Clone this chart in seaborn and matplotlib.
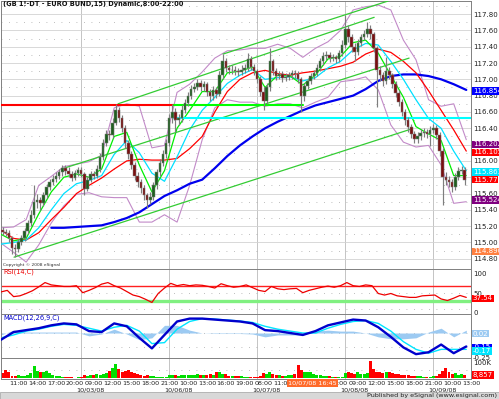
# EURO BUND 15 min - candles + MAs + RSI + MACD + volume (eSignal look)

import numpy as np
import matplotlib
matplotlib.use("Agg")
import matplotlib.pyplot as plt
import matplotlib.transforms as mtrans
from matplotlib.patches import Rectangle
import seaborn as sns

sns.set_theme(style="white")
plt.rcParams['font.family'] = ['DejaVu Sans']

# === Dados (barras de 30 min, x em unidades de barras de 15 min) ===
first_open = 115.15
closes = [115.13, 115.12, 115.06, 114.93, 114.92, 115.01, 115.05, 115.14, 115.24, 115.34,
          115.50, 115.52, 115.49, 115.58, 115.68, 115.74, 115.78, 115.82, 115.86, 115.91,
          115.88, 115.84, 115.79, 115.85, 115.89, 115.84, 115.66, 115.77, 115.84, 115.82,
          115.90, 116.05, 116.22, 116.33, 116.32, 116.47, 116.62, 116.53, 116.40, 116.22,
          116.08, 115.95, 115.82, 115.74, 115.67, 115.58, 115.52, 115.56, 115.70, 115.86,
          115.98, 116.08, 116.22, 116.52, 116.60, 116.50, 116.52, 116.63, 116.71, 116.80,
          116.88, 116.91, 116.95, 116.90, 116.94, 116.84, 116.79, 116.87, 116.82, 117.05,
          117.22, 117.14, 117.11, 117.12, 117.10, 117.09, 117.12, 117.14, 117.25, 117.15,
          117.10, 117.00, 116.85, 116.74, 116.90, 117.22, 117.10, 117.04, 117.06, 117.02,
          117.03, 117.05, 117.08, 117.07, 117.00, 116.80, 116.92, 116.98, 117.04, 117.08,
          117.14, 117.22, 117.28, 117.30, 117.26, 117.27, 117.25, 117.32, 117.42, 117.62,
          117.52, 117.40, 117.34, 117.45, 117.52, 117.56, 117.62, 117.55, 117.38, 117.12,
          117.05, 116.98, 117.10, 117.05, 116.94, 116.83, 116.72, 116.60, 116.50, 116.41,
          116.33, 116.27, 116.30, 116.34, 116.35, 116.33, 116.38, 116.40, 116.32, 116.12,
          115.80, 115.77, 115.74, 115.68, 115.80, 115.88, 115.89, 115.77]
highs = [115.19, 115.17, 115.15, 115.08, 114.98, 115.04, 115.09, 115.18, 115.28, 115.40,
         115.70, 115.60, 115.56, 115.62, 115.72, 115.78, 115.83, 115.87, 115.90, 115.95,
         115.95, 115.92, 115.88, 115.89, 115.93, 115.92, 115.86, 115.81, 115.88, 115.88,
         115.95, 116.10, 116.27, 116.38, 116.38, 116.52, 116.70, 116.66, 116.56, 116.44,
         116.26, 116.12, 115.99, 115.86, 115.78, 115.71, 115.61, 115.62, 115.74, 115.90,
         116.02, 116.13, 116.27, 116.58, 116.70, 116.65, 116.58, 116.68, 116.76, 116.85,
         116.93, 116.96, 117.00, 116.99, 116.98, 116.97, 116.88, 116.92, 116.91, 117.10,
         117.31, 117.26, 117.18, 117.17, 117.16, 117.14, 117.17, 117.19, 117.32, 117.28,
         117.19, 117.13, 117.04, 116.90, 116.95, 117.38, 117.25, 117.14, 117.10, 117.10,
         117.08, 117.09, 117.12, 117.12, 117.10, 117.03, 116.96, 117.02, 117.08, 117.12,
         117.19, 117.26, 117.33, 117.35, 117.34, 117.31, 117.30, 117.36, 117.48, 117.79,
         117.66, 117.56, 117.44, 117.50, 117.56, 117.61, 117.70, 117.66, 117.58, 117.41,
         117.16, 117.09, 117.27, 117.15, 117.08, 116.98, 116.87, 116.76, 116.64, 116.54,
         116.45, 116.37, 116.35, 116.39, 116.40, 116.39, 116.43, 116.45, 116.44, 116.36,
         116.16, 115.86, 115.82, 115.78, 115.85, 115.93, 115.94, 115.92]
lows = [115.09, 115.08, 115.01, 114.86, 114.82, 114.88, 114.97, 115.02, 115.10, 115.20,
        115.30, 115.42, 115.40, 115.45, 115.55, 115.64, 115.70, 115.74, 115.78, 115.82,
        115.83, 115.80, 115.75, 115.76, 115.81, 115.80, 115.58, 115.63, 115.74, 115.78,
        115.79, 115.86, 116.01, 116.18, 116.26, 116.28, 116.44, 116.48, 116.35, 116.16,
        116.02, 115.90, 115.76, 115.68, 115.61, 115.52, 115.42, 115.47, 115.52, 115.66,
        115.82, 115.94, 116.04, 116.18, 116.46, 116.36, 116.44, 116.48, 116.59, 116.67,
        116.76, 116.84, 116.87, 116.86, 116.86, 116.79, 116.74, 116.75, 116.77, 116.79,
        117.01, 117.09, 117.06, 117.06, 117.05, 117.04, 117.05, 117.08, 117.10, 117.11,
        117.05, 116.95, 116.80, 116.62, 116.70, 116.86, 117.05, 116.99, 117.00, 116.97,
        116.98, 116.99, 117.01, 117.02, 116.95, 116.60, 116.74, 116.88, 116.94, 117.00,
        117.04, 117.10, 117.18, 117.24, 117.21, 117.22, 117.20, 117.21, 117.28, 117.38,
        117.46, 117.34, 117.22, 117.30, 117.41, 117.48, 117.52, 117.50, 117.33, 116.66,
        116.98, 116.92, 116.94, 117.00, 116.89, 116.78, 116.67, 116.55, 116.44, 116.36,
        116.28, 116.22, 116.22, 116.26, 116.29, 116.28, 116.18, 116.34, 116.27, 116.06,
        115.46, 115.70, 115.68, 115.62, 115.64, 115.76, 115.84, 115.70]
volume_k = [30, 50, 40, 15, 12, 20, 15, 12, 20, 30, 75, 45, 40, 35, 45, 30, 20, 12, 10, 8,
            5, 4, 4, 3, 4, 5, 20, 15, 18, 20, 25, 22, 28, 30, 45, 60, 90, 55, 40, 45,
            50, 35, 30, 25, 20, 15, 18, 12, 10, 6, 5, 4, 5, 18, 22, 20, 15, 18, 22, 20,
            18, 20, 25, 22, 18, 20, 25, 22, 35, 40, 28, 25, 15, 12, 10, 12, 10, 8, 8, 5,
            4, 5, 15, 30, 25, 35, 28, 20, 18, 15, 15, 18, 20, 25, 80, 50, 40, 38, 35, 25,
            20, 18, 15, 12, 10, 8, 6, 5, 8, 30, 35, 30, 25, 35, 28, 25, 30, 105, 55, 40,
            35, 30, 40, 35, 30, 25, 28, 22, 20, 18, 15, 15, 12, 10, 8, 6, 8, 12, 15, 25,
            45, 60, 35, 25, 30, 22, 25, 20]

# indicadores lidos a cada 2 horas
ema_fast = [115.10, 115.02, 115.05, 115.35, 115.62, 115.80, 115.84, 115.80, 115.90, 116.30,
            116.35, 115.95, 115.62, 115.88, 116.40, 116.62, 116.85, 116.85, 117.08, 117.10,
            117.15, 116.90, 117.05, 117.04, 116.93, 117.05, 117.25, 117.28, 117.45, 117.48,
            117.32, 117.05, 116.78, 116.42, 116.33, 116.25, 115.82, 115.82]
ema_mid = [114.98, 115.00, 115.03, 115.18, 115.40, 115.60, 115.72, 115.76, 115.82, 116.08,
           116.25, 116.10, 115.85, 115.75, 116.05, 116.38, 116.62, 116.78, 116.95, 117.05,
           117.12, 117.00, 117.02, 117.03, 116.98, 117.02, 117.14, 117.22, 117.36, 117.44,
           117.42, 117.22, 117.00, 116.75, 116.52, 116.40, 116.12, 115.88]
ma_red = [115.15, 115.05, 115.03, 115.12, 115.28, 115.43, 115.60, 115.70, 115.79, 115.90,
          116.00, 116.02, 116.01, 116.01, 116.03, 116.15, 116.30, 116.60, 116.85, 117.00,
          117.08, 117.11, 117.07, 117.05, 117.08, 117.10, 117.13, 117.16, 117.21, 117.31,
          117.37, 117.33, 117.22, 117.08, 116.86, 116.62, 116.38, 116.12]
ma_blue = [np.nan, np.nan, np.nan, np.nan, 115.18, 115.18, 115.19, 115.20, 115.21, 115.25,
           115.30, 115.37, 115.47, 115.57, 115.64, 115.72, 115.77, 115.91, 116.06, 116.19,
           116.30, 116.40, 116.48, 116.55, 116.62, 116.68, 116.72, 116.76, 116.80, 116.88,
           116.98, 117.04, 117.06, 117.06, 117.04, 117.00, 116.94, 116.87]
bb_upper = [115.18, 115.19, 115.28, 115.70, 115.81, 115.93, 115.96, 115.99, 116.07, 116.65,
            116.70, 116.67, 116.16, 116.19, 116.84, 116.94, 117.09, 117.26, 117.35, 117.36,
            117.38, 117.38, 117.43, 117.38, 117.27, 117.38, 117.46, 117.60, 117.85, 117.89,
            117.91, 117.85, 117.48, 117.24, 116.75, 116.67, 116.70, 116.26]
bb_lower = [114.99, 114.88, 114.76, 114.97, 115.24, 115.45, 115.59, 115.61, 115.56, 115.55,
            115.55, 115.25, 115.25, 115.34, 115.25, 115.70, 116.26, 116.65, 116.75, 116.72,
            116.72, 116.67, 116.70, 116.70, 116.65, 116.72, 116.78, 116.97, 116.99, 117.03,
            116.87, 116.44, 116.23, 116.17, 116.19, 115.95, 115.48, 115.50]
macd = [-0.07, 0.01, 0.03, 0.05, 0.08, 0.10, 0.09, 0.02, 0.01, 0.10,
        0.07, -0.05, -0.16, -0.02, 0.12, 0.15, 0.15, 0.14, 0.13, 0.12,
        0.10, 0.03, 0.02, 0.00, -0.02, 0.02, 0.08, 0.11, 0.14, 0.13,
        0.06, -0.04, -0.15, -0.22, -0.20, -0.12, -0.21, -0.14]
macd_signal = [-0.05, -0.02, 0.02, 0.04, 0.07, 0.09, 0.08, 0.05, 0.02, 0.06,
               0.08, 0.02, -0.11, -0.10, 0.04, 0.12, 0.15, 0.145, 0.135, 0.125,
               0.11, 0.07, 0.04, 0.02, 0.00, 0.00, 0.05, 0.09, 0.12, 0.13,
               0.10, 0.02, -0.09, -0.17, -0.21, -0.17, -0.17, -0.17]
# RSI lido a cada hora
rsi = [54, 58, 42, 44, 50, 57, 67, 78, 72, 70, 68, 68, 70, 52, 58, 65, 74, 78, 70, 64,
       55, 46, 42, 35, 27, 50, 64, 76, 70, 73, 70, 72, 71, 68, 64, 75, 70, 66, 68, 72,
       65, 58, 55, 68, 62, 60, 62, 63, 52, 58, 62, 66, 69, 66, 70, 78, 70, 68, 72, 70,
       50, 46, 50, 44, 42, 40, 40, 44, 45, 46, 36, 32, 38, 45, 40]

# linhas desenhadas (canais, niveis)
channels = [((8.3, 114.82), (260.9, 116.39)),
            ((40.0, 115.91), (259.6, 117.26)),
            ((74.5, 116.70), (237.4, 117.76)),
            ((141.3, 117.31), (246.3, 117.96))]
level_red = (116.69, 0, 110)
level_green = (116.69, 110, 192)
level_cyan = (116.53, 110, 299)

right_labels = [(116.854, '#0000FF', '116.854082'), (116.2025, '#800080', '116.202515'),
                (116.105, '#FF0000', '116.105'), (115.8635, '#00E5FF', '115.8635'),
                (115.77, '#FF0000', '115.77'), (115.5245, '#800080', '115.524485'),
                (114.8905, '#FF8040', '114.890538')]

day_names = ['10/03/08', '10/06/08', '10/07/08', '10/08/08', '10/09/08']
tick_days = [0, 0, 0, 0, 1, 1, 1, 1, 1, 2, 2, 2, 2, 3, 3, 3, 3, 3, 4, 4, 4, 4, 4, 5, 5]
tick_hours = [11, 14, 17, 20, 9, 12, 15, 18, 21, 10, 13, 16, 19, 8, 11, 14, 17, 20,
              9, 12, 15, 18, 21, 10, 13]
cursor_label = '10/07/08 16:45'
cursor_bar = 198

# === eixos ===
W, H = 499, 399
fig = plt.figure(figsize=(W / 100, H / 100), dpi=100)
fig.patch.set_facecolor('white')


def panel(top, bottom):
    return fig.add_axes([1 / W, 1 - bottom / H, 470 / W, (bottom - top) / H])


ax = panel(1, 269)
ax_rsi = panel(269, 314)
ax_macd = panel(314, 358)
ax_vol = panel(358, 379)

n = len(closes)
cx = np.arange(n) * 2 + 1
opens = np.r_[first_open, closes[:-1]]
cl = np.array(closes)
line_x = np.arange(0, 297, 8)
rsi_x = np.arange(0, 297, 4)
separators = [56 * d + 51 for d in range(5)]

for a in (ax, ax_rsi, ax_macd, ax_vol):
    a.set_xlim(0, 299)
    a.set_facecolor('white')
    for s in a.spines.values():
        s.set_color('#808080')
        s.set_linewidth(0.7)
    a.tick_params(axis='both', length=0, labelsize=5, pad=1.5, colors='#202020')
    a.yaxis.tick_right()
    a.set_xticks([])
    for sx in separators:
        a.axvline(sx, color='#c4c4c4', lw=0.7, zorder=0)

# grade de precos
ax.set_ylim(114.675, 117.96)
for p in np.arange(114.8, 117.95, 0.1):
    if round(p * 10) % 2 == 0:
        ax.axhline(p, color='#d2d2d2', lw=0.6, zorder=0)
    else:
        ax.axhline(p, color='#a8a8a8', lw=0.6, ls=(0, (1, 8)), zorder=0)
ticks = np.arange(114.8, 117.81, 0.2)
ax.set_yticks(ticks)
ax.set_yticklabels([f"{t:.2f}" for t in ticks])

# bandas e medias
sns.lineplot(x=line_x, y=bb_upper, ax=ax, color='#c28ac8', lw=0.8, zorder=2)
sns.lineplot(x=line_x, y=bb_lower, ax=ax, color='#c28ac8', lw=0.8, zorder=2)
sns.lineplot(x=line_x, y=ma_blue, ax=ax, color='#0000ee', lw=1.6, zorder=3)
sns.lineplot(x=line_x, y=ma_red, ax=ax, color='#ff0000', lw=0.9, zorder=3)
sns.lineplot(x=line_x, y=ema_mid, ax=ax, color='#00e0ff', lw=0.9, zorder=3)
sns.lineplot(x=line_x, y=ema_fast, ax=ax, color='#00ee00', lw=0.9, zorder=3)

for (x0, y0), (x1, y1) in channels:
    ax.plot([x0, x1], [y0, y1], color='#33cc33', lw=0.9, zorder=4)
for (lvl, x0, x1), col in [(level_red, '#ff0000'), (level_green, '#00ff00'), (level_cyan, '#00ffff')]:
    ax.plot([x0, x1], [lvl, lvl], color=col, lw=1.5, zorder=4)

# candles
up = cl >= opens
ax.vlines(cx, lows, highs, color='#7e7e7e', lw=0.85, zorder=5)
body_lo = np.minimum(opens, cl)
body_h = np.maximum(np.abs(cl - opens), 0.008)
ax.bar(cx, body_h, bottom=body_lo, width=1.6,
       color=np.where(up, '#1f5f1f', '#7a1010'), edgecolor='#7e7e7e', linewidth=0.35, zorder=6)

for val, col, txt in right_labels:
    ax.text(1.004, val, txt, transform=ax.get_yaxis_transform(), fontsize=5, color='white',
            va='center', ha='left', clip_on=False, zorder=10,
            bbox=dict(boxstyle='square,pad=0.12', fc=col, ec='none'))

ax.text(0.004, 117.92, '(GB 1!-DT - EURO BUND,15) Dynamic,8:00-22:00', fontsize=4.8,
        fontweight='bold', color='#101010', va='center', transform=ax.get_yaxis_transform())
ax.text(0.004, 114.72, 'Copyright \u00a9 2008 eSignal', fontsize=3.2, color='#303030',
        va='center', transform=ax.get_yaxis_transform())
ax.set_xlabel('')
ax.set_ylabel('')

# RSI
ax_rsi.set_ylim(-2.6, 112.8)
ax_rsi.axhline(50, color='#a8a8a8', lw=0.6, ls=(0, (1, 8)), zorder=0)
ax_rsi.axhline(10, color='#a8a8a8', lw=0.6, ls=(0, (1, 8)), zorder=0)
ax_rsi.axhline(70, color='#ff2020', lw=1.0, zorder=1)
ax_rsi.axhline(30, color='#80f080', lw=2.4, zorder=1)
sns.lineplot(x=rsi_x, y=rsi, ax=ax_rsi, color='#ee0000', lw=0.9, zorder=3)
ax_rsi.set_yticks([0, 50, 100])
ax_rsi.set_yticklabels(['0', '50', '100'])
ax_rsi.text(0.004, 106, 'RSI(14,C)', fontsize=4.8, color='#ee0000', va='center',
            transform=ax_rsi.get_yaxis_transform())
ax_rsi.text(1.004, rsi[-1] - 2.5, '37.54', transform=ax_rsi.get_yaxis_transform(), fontsize=5,
            color='white', va='center', ha='left', clip_on=False,
            bbox=dict(boxstyle='square,pad=0.12', fc='#ff0000', ec='none'))
ax_rsi.set_xlabel('')
ax_rsi.set_ylabel('')

# MACD
ax_macd.set_ylim(-0.26, 0.198)
ax_macd.axhline(0, color='#a8a8a8', lw=0.6, ls=(0, (1, 8)), zorder=0)
ax_macd.axhline(-0.15, color='#a8a8a8', lw=0.6, ls=(0, (1, 8)), zorder=0)
hist = np.array(macd) - np.array(macd_signal)
ax_macd.fill_between(line_x, 0, hist, color='#9ccaf2', lw=0, zorder=1)
sns.lineplot(x=line_x, y=macd_signal, ax=ax_macd, color='#00e5ff', lw=1.0, zorder=2)
sns.lineplot(x=line_x, y=macd, ax=ax_macd, color='#0000cc', lw=1.7, zorder=3)
ax_macd.set_yticks([-0.25])
ax_macd.set_yticklabels(['-0.25'])
ax_macd.text(0.004, 0.16, 'MACD(12,26,9,C)', fontsize=4.8, color='#0000cc', va='center',
             transform=ax_macd.get_yaxis_transform())
for val, col, txt in [(-0.005, '#9ccaf2', '0.02'), (-0.15, '#0000ff', '-0.15'), (-0.19, '#00e5ff', '-0.17')]:
    ax_macd.text(1.004, val, txt, transform=ax_macd.get_yaxis_transform(), fontsize=5,
                 color='white', va='center', ha='left', clip_on=False,
                 bbox=dict(boxstyle='square,pad=0.12', fc=col, ec='none'))
ax_macd.set_xlabel('')
ax_macd.set_ylabel('')

# Volume
ax_vol.set_ylim(-6, 125)
ax_vol.axhline(50, color='#a8a8a8', lw=0.6, ls=(0, (1, 8)), zorder=0)
ax_vol.bar(cx, volume_k, width=1.9, color=np.where(up, '#00dd00', '#ff0000'), lw=0, zorder=2)
ax_vol.set_yticks([100])
ax_vol.set_yticklabels(['100K'])
ax_vol.text(1.004, 19, '8,857', transform=ax_vol.get_yaxis_transform(), fontsize=5,
            color='white', va='center', ha='left', clip_on=False,
            bbox=dict(boxstyle='square,pad=0.12', fc='#ff0000', ec='none'))

tick_bars = [56 * d + 4 * (h - 8) - 1 for d, h in zip(tick_days, tick_hours)]
ax_vol.set_xticks(tick_bars)
ax_vol.set_xticklabels([f"{h:02d}:00" for h in tick_hours])
ax_vol.tick_params(axis='x', labelsize=4.6, pad=1.5)
ax_vol.set_xlim(0, 299)
trans = mtrans.blended_transform_factory(ax_vol.transData, fig.transFigure)
for d, name in enumerate(day_names, start=1):
    ax_vol.text(56 * d + 1, 1 - 389.5 / H, name, transform=trans, fontsize=4.6,
                ha='center', va='center', color='#202020')
ax_vol.text(cursor_bar, 1 - 383 / H, cursor_label, transform=trans, fontsize=4.6,
            ha='center', va='center', color='white', zorder=10,
            bbox=dict(boxstyle='square,pad=0.2', fc='#ff6a2a', ec='none'))
ax_vol.set_xlabel('')
ax_vol.set_ylabel('')

# rodape
fig.patches.append(Rectangle((0, 0), 1, 7 / H, transform=fig.transFigure,
                             fc='#d8d8d8', ec='#a0a0a0', lw=0.5, zorder=-1))
fig.text(497 / W, 3.5 / H, 'Published by eSignal (www.esignal.com)', fontsize=4.6,
         ha='right', va='center', color='#202020')

fig.savefig('out.png', dpi=100)
